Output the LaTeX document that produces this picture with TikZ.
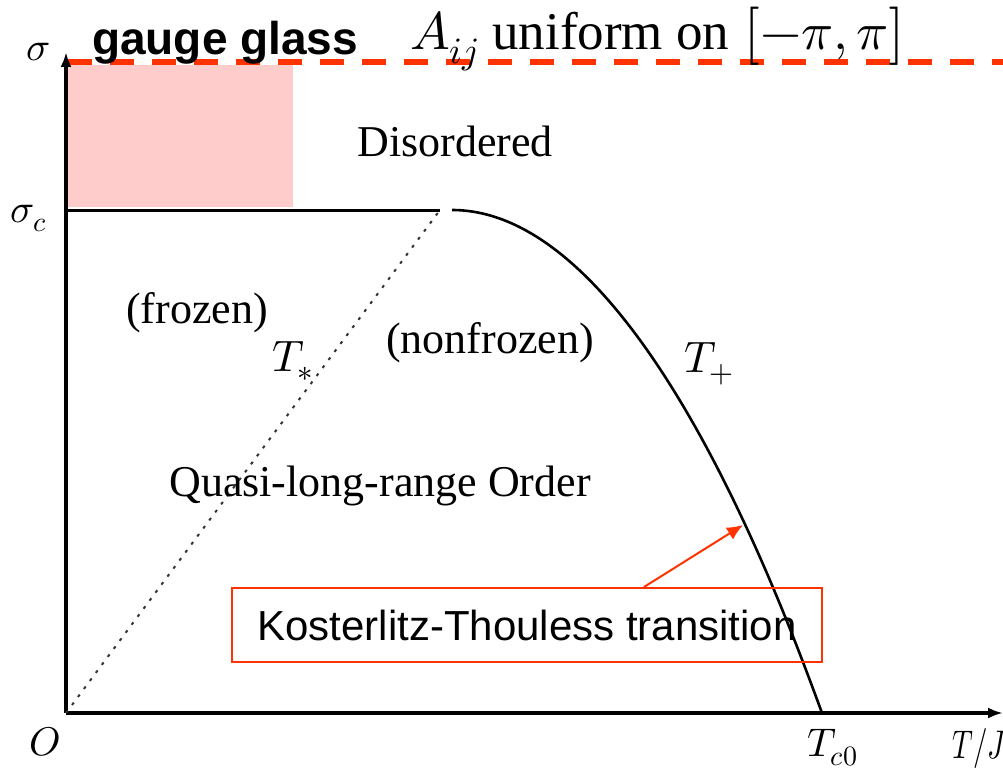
\documentclass[tikz,border=0pt]{standalone}
\usepackage{graphicx}
\usepackage{fontspec}
\usepackage{unicode-math}
\setmainfont{Liberation Serif}
\newfontfamily\arialfont{Liberation Sans}
\usetikzlibrary{arrows.meta}
\definecolor{ktred}{HTML}{FF3300}
\definecolor{pinkfill}{HTML}{FFCCCC}
\tikzset{
  axisline/.style={line width=4pt, -{Latex[length=15pt,width=11pt]}},
  boundary/.style={line width=3pt},
  dottedline/.style={line width=2pt, dash pattern=on 3pt off 7pt, draw=black!80},
  reddash/.style={line width=6pt, draw=ktred, dash pattern=on 24pt off 18pt},
  lbl/.style={inner sep=0pt, font=\fontsize{44}{48}\selectfont},
  axlbl/.style={inner sep=0pt, font=\fontsize{40}{44}\selectfont},
  ktbox/.style={draw=ktred, line width=2pt, minimum width=590pt, minimum height=74pt, inner sep=0pt,
    font=\arialfont\fontsize{42}{46}\selectfont},
  ktarrow/.style={draw=ktred, line width=2pt, -{Latex[length=16pt,width=14pt]}}
}
\begin{document}
\begin{tikzpicture}[x=1pt,y=-1pt]
\useasboundingbox (0,0) rectangle (1003,770);
% pink region
\fill[pinkfill] (68,65) rectangle (293,207);
% coordinates
\coordinate (O) at (66,713);
\coordinate (ytop) at (66,52);
\coordinate (xend) at (1003,713);
\coordinate (sc) at (66,210);
\coordinate (scend) at (440,210);
\coordinate (peak) at (452,210);
\coordinate (tc) at (822,713);
\coordinate (dl) at (68,62);
\coordinate (dr) at (1003,62);
% red dashed line
\draw[reddash] (dl) -- (dr);
% axes
\draw[axisline] (O) -- (ytop);
\draw[axisline] (O) -- (xend);
% boundaries
\draw[boundary] (sc) -- (scend);
\draw[line width=2.6pt] (peak) parabola (tc);
\draw[dottedline] (O) -- (scend);
% title
\node[anchor=base west, inner sep=0pt, font=\fontsize{53}{56}\selectfont] (title2) at (410,50)
  {$A_{ij}$ uniform on $\bigl[-\pi,\pi\bigr]$};
\node[anchor=base west, inner sep=0pt, font=\arialfont\bfseries\fontsize{46}{50}\selectfont] (title1) at (92,55) {gauge glass};
% axis labels
\node[axlbl] (sig) at (38,52) {$\sigma$};
\node[axlbl, anchor=base west] (sigc) at (10,222) {$\sigma_c$};
\node[axlbl, anchor=base] (orig) at (45,755) {$O$};
\node[axlbl, anchor=base west] (tc0) at (807,756) {$T_{c0}$};
\node[axlbl, anchor=base west] (tj) at (952,758) {\scalebox{0.72}[1]{$T/J$}};
% region labels
\node[lbl, anchor=base] (dis) at (455,157) {Disordered};
\node[lbl, anchor=base] (froz) at (197,323) {(frozen)};
\node[lbl, anchor=base] (nonfroz) at (490,353) {(nonfrozen)};
\node[lbl, anchor=base] (qlro) at (380,496) {Quasi-long-range Order};
\node[lbl, anchor=base west] (tstar) at (272,371) {$T_*$};
\node[lbl, anchor=base west] (tplus) at (684,372) {$T_+$};
% KT annotation
\node[ktbox] (kt) at (527,625) {Kosterlitz-Thouless transition};
\coordinate (kttip) at (743,525);
\draw[ktarrow] ([xshift=413pt]kt.north west) -- (kttip);
\end{tikzpicture}
\end{document}
